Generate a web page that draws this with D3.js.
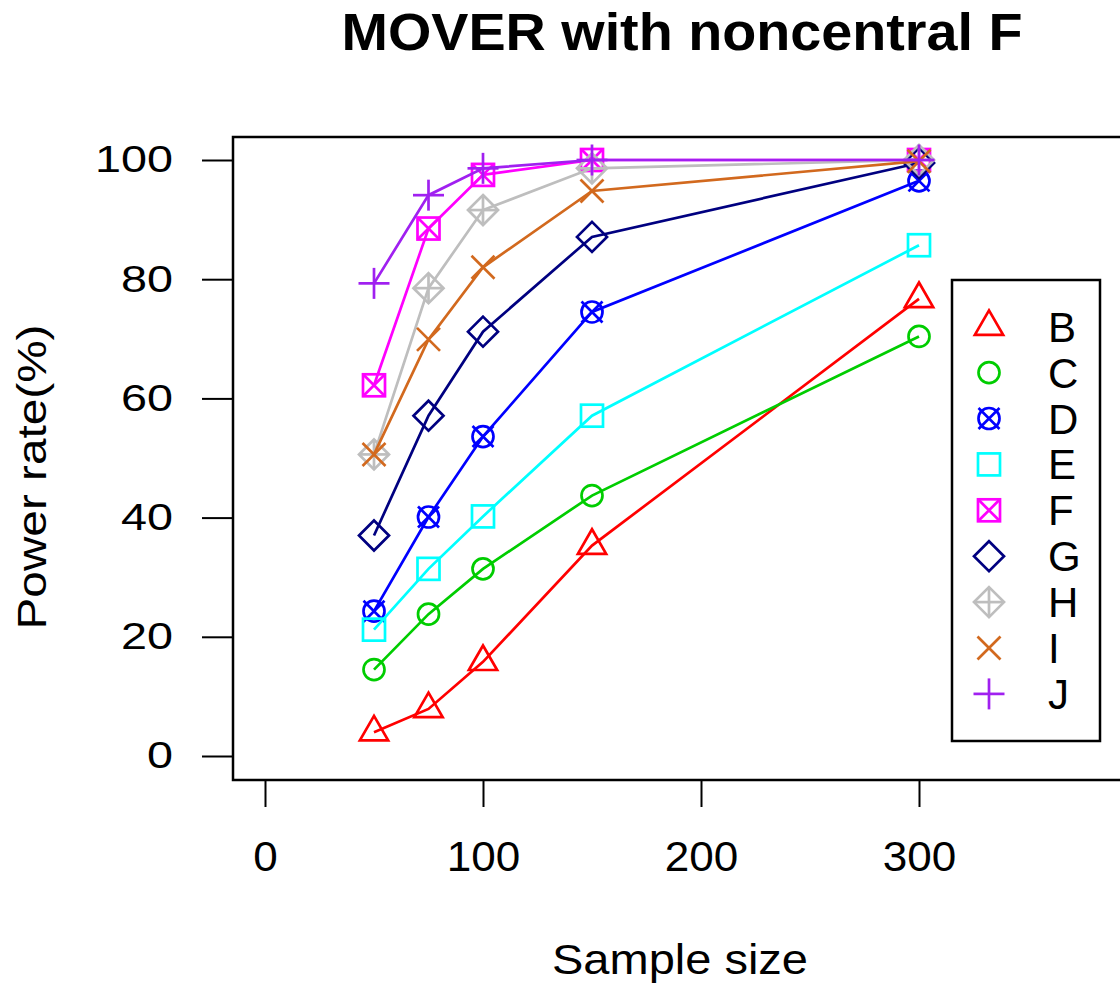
<!DOCTYPE html>
<html><head><meta charset="utf-8">
<script src="https://cdn.jsdelivr.net/npm/d3@7"></script>
<style>body{margin:0;background:#fff}svg{display:block}text{font-family:"Liberation Sans",Arial,sans-serif}</style>
</head><body>
<script>
const sampleSizes = [50, 75, 100, 150, 300];
const seriesNames = ["B","C","D","E","F","G","H","I","J"];
const valuesB = [4.0, 7.9, 15.8, 35.3, 76.7];
const valuesC = [14.5, 23.8, 31.4, 43.7, 70.4];
const valuesD = [24.3, 40.1, 53.6, 74.5, 96.5];
const valuesE = [21.2, 31.4, 40.2, 57.1, 85.7];
const valuesF = [62.2, 88.5, 97.5, 100, 100];
const valuesG = [37.0, 57.1, 71.2, 87.1, 99.5];
const valuesH = [50.6, 78.5, 91.6, 98.6, 100];
const valuesI = [50.6, 69.9, 82.0, 94.8, 99.8];
const valuesJ = [79.3, 94.1, 98.6, 100, 100];
const xTicks = [0, 100, 200, 300];
const yTicks = [0, 20, 40, 60, 80, 100];

const allValues = [valuesB,valuesC,valuesD,valuesE,valuesF,valuesG,valuesH,valuesI,valuesJ];
const colors = ["#FF0000","#00CD00","#0000FF","#00FFFF","#FF00FF","#000080","#BEBEBE","#D2691E","#A020F0"];
const shapes = ["tri","circle","circleX","square","squareX","diamond","diamondPlus","cross","plus"];

const W = 1120, H = 987;
const svg = d3.select("body").append("svg").attr("width", W).attr("height", H);

const x = d3.scaleLinear().domain([0, 300]).range([265, 919]);
const y = d3.scaleLinear().domain([0, 100]).range([756, 160]);

// plot box
svg.append("path").attr("d", "M1130,137 H233 V780 H1130")
  .attr("fill","none").attr("stroke","#000").attr("stroke-width",2.5);

// axes
const xAxis = svg.append("g").attr("transform","translate(0,780)")
  .call(d3.axisBottom(x).tickValues(xTicks).tickSize(27).tickPadding(34).tickFormat(d3.format("d")));
xAxis.select(".domain").remove();
xAxis.selectAll("line").attr("stroke-width",2);
xAxis.selectAll("text").attr("font-size",42).attr("fill","#000")
  .attr("textLength", d => String(d).length * 24.5).attr("lengthAdjust","spacingAndGlyphs");

const yAxis = svg.append("g").attr("transform","translate(233,0)")
  .call(d3.axisLeft(y).tickValues(yTicks).tickSize(31).tickPadding(29).tickFormat(d3.format("d")));
yAxis.select(".domain").remove();
yAxis.selectAll("line").attr("stroke-width",2);
yAxis.selectAll("text").attr("font-size",37).attr("fill","#000")
  .attr("textLength", d => String(d).length * 26).attr("lengthAdjust","spacingAndGlyphs");

// titles
svg.append("text").attr("x",682).attr("y",50).attr("text-anchor","middle")
  .attr("font-size",51).attr("font-weight","bold")
  .attr("textLength",681).attr("lengthAdjust","spacingAndGlyphs").text("MOVER with noncentral F");
svg.append("text").attr("x",680).attr("y",974).attr("text-anchor","middle")
  .attr("font-size",42).attr("textLength",256).attr("lengthAdjust","spacingAndGlyphs").text("Sample size");
svg.append("text").attr("transform","translate(46,477) rotate(-90)").attr("text-anchor","middle")
  .attr("font-size",40).attr("textLength",305).attr("lengthAdjust","spacingAndGlyphs").text("Power rate(%)");

function drawMarker(g, shape, color) {
  const R = 10.5, sw = 2.7;
  const st = s => s.attr("fill","none").attr("stroke",color).attr("stroke-width",sw);
  const line = (x1,y1,x2,y2) => st(g.append("line").attr("x1",x1).attr("y1",y1).attr("x2",x2).attr("y2",y2));
  switch(shape){
    case "tri": st(g.append("path").attr("d",`M0,${-1.555*R} L${1.347*R},${0.778*R} L${-1.347*R},${0.778*R} Z`)); break;
    case "circle": st(g.append("circle").attr("r",R)); break;
    case "circleX": st(g.append("circle").attr("r",R)); line(-R,-R,R,R); line(-R,R,R,-R); break;
    case "square": st(g.append("rect").attr("x",-11).attr("y",-11).attr("width",22).attr("height",22)); break;
    case "squareX": st(g.append("rect").attr("x",-11).attr("y",-11).attr("width",22).attr("height",22)); line(-11,-11,11,11); line(-11,11,11,-11); break;
    case "diamond": st(g.append("path").attr("d","M0,-15 L15,0 L0,15 L-15,0 Z")); break;
    case "diamondPlus": st(g.append("path").attr("d","M0,-15 L15,0 L0,15 L-15,0 Z")); line(-15,0,15,0); line(0,-15,0,15); break;
    case "cross": line(-11.5,-11.5,11.5,11.5); line(-11.5,11.5,11.5,-11.5); break;
    case "plus": line(-15.5,0,15.5,0); line(0,-15.5,0,15.5); break;
  }
}

const lineGen = d3.line().x(d => x(d[0])).y(d => y(d[1]));
seriesNames.forEach((name, i) => {
  const pts = sampleSizes.map((s, j) => [s, allValues[i][j]]);
  const g = svg.append("g");
  g.append("path").datum(pts).attr("d", lineGen).attr("fill","none")
    .attr("stroke", colors[i]).attr("stroke-width", 2.7);
  pts.forEach(p => {
    const mg = g.append("g").attr("transform", `translate(${x(p[0])},${y(p[1])})`);
    drawMarker(mg, shapes[i], colors[i]);
  });
});

// legend
const leg = svg.append("g");
leg.append("rect").attr("x",952).attr("y",280).attr("width",148).attr("height",461)
  .attr("fill","#fff").attr("stroke","#000").attr("stroke-width",2.5);
seriesNames.forEach((name, i) => {
  const cy = 326.7 + i * 45.9;
  const mg = leg.append("g").attr("transform", `translate(989,${cy})`);
  drawMarker(mg, shapes[i], colors[i]);
  leg.append("text").attr("x",1048).attr("y",cy + 15).attr("font-size",42).text(name);
});
</script>
</body></html>
